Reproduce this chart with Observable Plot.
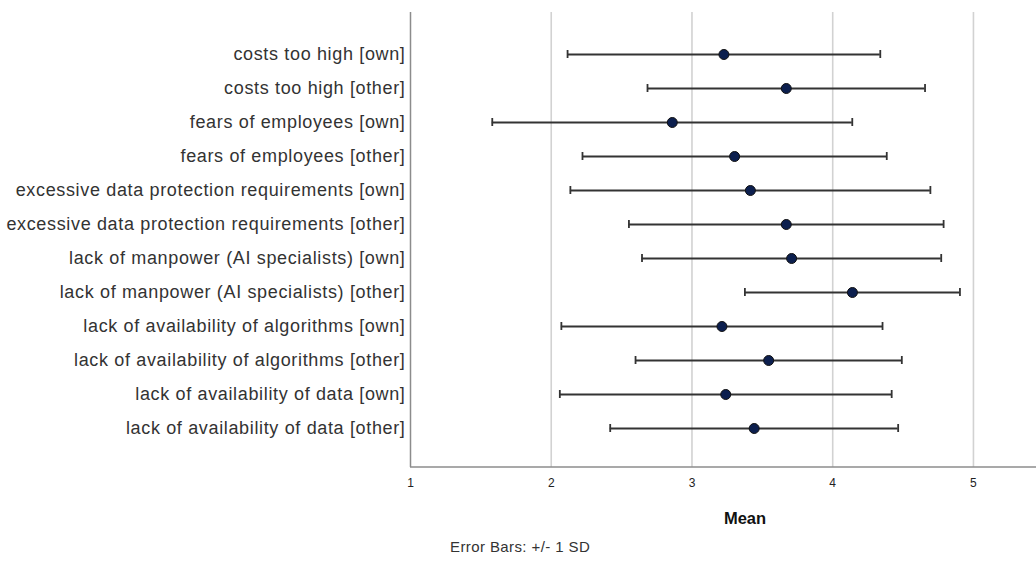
<!DOCTYPE html>
<html><head><meta charset="utf-8">
<script src="https://cdn.jsdelivr.net/npm/d3@7"></script>
<script src="https://cdn.jsdelivr.net/npm/@observablehq/plot@0.6"></script>
<style>
body{margin:0;background:#fff;}
#wrap{position:relative;width:1036px;height:568px;font-family:"Liberation Sans",Arial,sans-serif;}
.lbl{position:absolute;color:#222;white-space:nowrap;}
#wrap svg g[aria-label="y-axis tick label"] text{letter-spacing:0.65px;}
</style></head><body>
<div id="wrap"></div>
<script>
const categories = [
  "costs too high [own]",
  "costs too high [other]",
  "fears of employees [own]",
  "fears of employees [other]",
  "excessive data protection requirements [own]",
  "excessive data protection requirements [other]",
  "lack of manpower (AI specialists) [own]",
  "lack of manpower (AI specialists) [other]",
  "lack of availability of algorithms [own]",
  "lack of availability of algorithms [other]",
  "lack of availability of data [own]",
  "lack of availability of data [other]"
];
const means = [3.227, 3.670, 2.860, 3.303, 3.415, 3.670, 3.708, 4.140, 3.213, 3.545, 3.240, 3.442];
const sds   = [1.111, 0.986, 1.279, 1.081, 1.279, 1.118, 1.063, 0.764, 1.141, 0.946, 1.179, 1.023];
const xTicks = [1, 2, 3, 4, 5];
const xLabel = "Mean";
const caption = "Error Bars: +/- 1 SD";

const data = categories.map((c, i) => ({cat: c, mean: means[i], lo: means[i] - sds[i], hi: means[i] + sds[i]}));

const bottomLine = (index, scales, values, dim) => {
  const g = d3.create("svg:line")
    .attr("x1", dim.marginLeft).attr("x2", dim.width - dim.marginRight)
    .attr("y1", dim.height - dim.marginBottom).attr("y2", dim.height - dim.marginBottom)
    .attr("stroke", "#8c8c8c").attr("stroke-width", 1.5);
  return g.node();
};

const plot = Plot.plot({
  width: 1036, height: 568,
  marginLeft: 410, marginRight: 0, marginTop: 12, marginBottom: 101,
  style: {fontFamily: "Liberation Sans, Arial, sans-serif", background: "#fff"},
  x: {domain: [1, 5.448], ticks: xTicks, label: null},
  y: {type: "band", domain: categories, range: [48, 434], paddingInner: 0.767, paddingOuter: 0, label: null},
  marks: [
    Plot.ruleX(xTicks.slice(1), {stroke: "#d2d2d2", strokeWidth: 1.6}),
    Plot.ruleX([xTicks[0]], {stroke: "#8c8c8c", strokeWidth: 1.5}),
    bottomLine,
    Plot.axisX({ticks: xTicks, tickFormat: d3.format("d"), tickSize: 0, tickPadding: 11, fontSize: 12, color: "#222", label: null}),
    Plot.axisY({tickSize: 0, tickPadding: 5, fontSize: 18, color: "#333", label: null}),
    Plot.ruleY(data, {y: "cat", x1: "lo", x2: "hi", stroke: "#333", strokeWidth: 1.8}),
    Plot.tickX(data, {x: "lo", y: "cat", stroke: "#333", strokeWidth: 1.8}),
    Plot.tickX(data, {x: "hi", y: "cat", stroke: "#333", strokeWidth: 1.8}),
    Plot.dot(data, {x: "mean", y: "cat", r: 5, fill: "#0c1f4e", stroke: "#111", strokeWidth: 1})
  ]
});
const wrap = document.getElementById("wrap");
wrap.appendChild(plot);
const t1 = document.createElement("div");
t1.className = "lbl";
t1.textContent = xLabel;
t1.style.cssText = "left:745px;top:509px;transform:translateX(-50%);font-weight:bold;font-size:16.5px;color:#111;";
wrap.appendChild(t1);
const t2 = document.createElement("div");
t2.className = "lbl";
t2.textContent = caption;
t2.style.cssText = "left:450px;top:538px;font-size:15px;letter-spacing:0.4px;color:#333;";
wrap.appendChild(t2);
</script>
</body></html>
